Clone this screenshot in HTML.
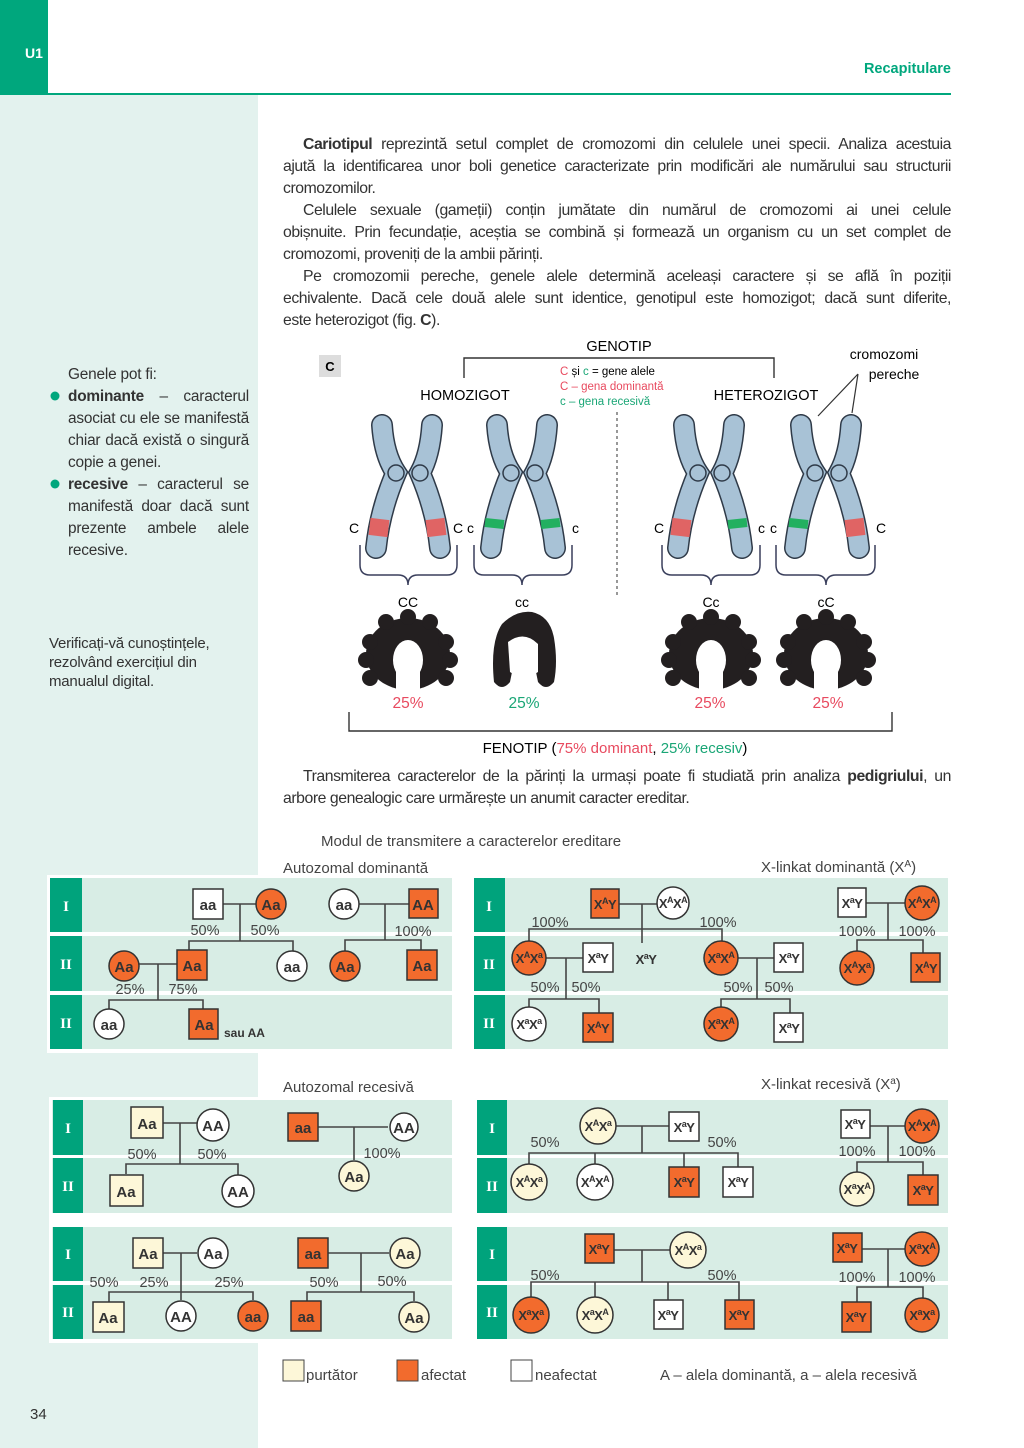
<!DOCTYPE html>
<html><head><meta charset="utf-8">
<style>
html,body{margin:0;padding:0;}
body{width:1024px;height:1448px;position:relative;background:#fff;font-family:"Liberation Sans",sans-serif;color:#333;overflow:hidden;}
.p{position:absolute;left:283px;width:668px;font-size:15.8px;line-height:22px;letter-spacing:-0.45px;}
.p div{white-space:nowrap;text-align:justify;text-align-last:justify;}
.p div.l{text-align-last:left;}
.ind{padding-left:20px;}
.side{position:absolute;left:68px;width:181px;font-size:15.4px;line-height:22px;letter-spacing:-0.2px;}
.side div{white-space:nowrap;text-align:justify;text-align-last:justify;}
.side div.l{text-align-last:left;}
svg{position:absolute;left:0;top:0;}
</style></head><body>
<svg width="1024" height="1448" viewBox="0 0 1024 1448" font-family="Liberation Sans, sans-serif">
<rect x="0" y="95" width="258" height="1353" fill="#e3f2ee"/>
<rect x="0" y="0" width="48" height="95" fill="#00a77d"/>
<line x1="48" y1="94" x2="951" y2="94" stroke="#00a77d" stroke-width="2"/>
<text x="25" y="58" fill="#fff" font-weight="bold" font-size="14">U1</text>
<text x="951" y="73" fill="#00a77d" font-weight="bold" font-size="14.5" text-anchor="end">Recapitulare</text>
<text x="30" y="1419" font-size="15" fill="#333">34</text>
<circle cx="55" cy="396" r="4.5" fill="#00a77d"/>
<circle cx="55" cy="484" r="4.5" fill="#00a77d"/>

<!-- Figure C -->
<rect x="319" y="355" width="22" height="22" fill="#ddd"/>
<text x="330" y="371" text-anchor="middle" font-weight="bold" font-size="13">C</text>
<text x="619" y="351" text-anchor="middle" font-size="14.5">GENOTIP</text>
<path d="M464 378 V358 H774 V378" fill="none" stroke="#333" stroke-width="1.4"/>
<text x="465" y="400" text-anchor="middle" font-size="14.5">HOMOZIGOT</text>
<text x="766" y="400" text-anchor="middle" font-size="14.5">HETEROZIGOT</text>
<text x="560" y="375" font-size="11.5"><tspan fill="#e84a5f">C</tspan> și <tspan fill="#1aa676">c</tspan> = gene alele</text>
<text x="560" y="390" font-size="11.5" fill="#e84a5f">C – gena dominantă</text>
<text x="560" y="405" font-size="11.5" fill="#1aa676">c – gena recesivă</text>
<line x1="617" y1="412" x2="617" y2="596" stroke="#555" stroke-width="1.2" stroke-dasharray="3,3"/>
<text x="884" y="359" text-anchor="middle" font-size="14">cromozomi</text>
<text x="894" y="379" text-anchor="middle" font-size="14">pereche</text>
<path d="M858 374 L818 416 M858 374 L852 413" stroke="#333" stroke-width="1.2" fill="none"/>

<g fill="none" stroke-linecap="round">
<g transform="translate(0,0)">
<path d="M382 425 Q384 455 396 473 Q380 510 376 548" stroke="#2f3a48" stroke-width="22"/>
<path d="M382 425 Q384 455 396 473 Q380 510 376 548" stroke="#a8c2d6" stroke-width="19"/>
<path d="M432 425 Q430 455 420 473 Q436 510 440 548" stroke="#2f3a48" stroke-width="22"/>
<path d="M432 425 Q430 455 420 473 Q436 510 440 548" stroke="#a8c2d6" stroke-width="19"/>
<path d="M380 519 L378 536" stroke="#e06464" stroke-width="19" stroke-linecap="butt"/>
<path d="M435 519 L437 536" stroke="#e06464" stroke-width="19" stroke-linecap="butt"/>
</g>
<g transform="translate(115,0)">
<path d="M382 425 Q384 455 396 473 Q380 510 376 548" stroke="#2f3a48" stroke-width="22"/>
<path d="M382 425 Q384 455 396 473 Q380 510 376 548" stroke="#a8c2d6" stroke-width="19"/>
<path d="M432 425 Q430 455 420 473 Q436 510 440 548" stroke="#2f3a48" stroke-width="22"/>
<path d="M432 425 Q430 455 420 473 Q436 510 440 548" stroke="#a8c2d6" stroke-width="19"/>
<path d="M380 519 L379 528" stroke="#22b060" stroke-width="19" stroke-linecap="butt"/>
<path d="M435 519 L436 528" stroke="#22b060" stroke-width="19" stroke-linecap="butt"/>
</g>
<g transform="translate(302,0)">
<path d="M382 425 Q384 455 396 473 Q380 510 376 548" stroke="#2f3a48" stroke-width="22"/>
<path d="M382 425 Q384 455 396 473 Q380 510 376 548" stroke="#a8c2d6" stroke-width="19"/>
<path d="M432 425 Q430 455 420 473 Q436 510 440 548" stroke="#2f3a48" stroke-width="22"/>
<path d="M432 425 Q430 455 420 473 Q436 510 440 548" stroke="#a8c2d6" stroke-width="19"/>
<path d="M380 519 L378 536" stroke="#e06464" stroke-width="19" stroke-linecap="butt"/>
<path d="M435 519 L436 528" stroke="#22b060" stroke-width="19" stroke-linecap="butt"/>
</g>
<g transform="translate(419,0)">
<path d="M382 425 Q384 455 396 473 Q380 510 376 548" stroke="#2f3a48" stroke-width="22"/>
<path d="M382 425 Q384 455 396 473 Q380 510 376 548" stroke="#a8c2d6" stroke-width="19"/>
<path d="M432 425 Q430 455 420 473 Q436 510 440 548" stroke="#2f3a48" stroke-width="22"/>
<path d="M432 425 Q430 455 420 473 Q436 510 440 548" stroke="#a8c2d6" stroke-width="19"/>
<path d="M380 519 L379 528" stroke="#22b060" stroke-width="19" stroke-linecap="butt"/>
<path d="M435 519 L437 536" stroke="#e06464" stroke-width="19" stroke-linecap="butt"/>
</g>
</g>
<g fill="#a8c2d6" stroke="#2f3a48" stroke-width="1.5">
<circle cx="396" cy="473" r="8"/><circle cx="420" cy="473" r="8"/>
<circle cx="511" cy="473" r="8"/><circle cx="535" cy="473" r="8"/>
<circle cx="698" cy="473" r="8"/><circle cx="722" cy="473" r="8"/>
<circle cx="815" cy="473" r="8"/><circle cx="839" cy="473" r="8"/>
</g>
<g font-size="14">
<text x="349" y="533">C</text><text x="453" y="533">C</text><text x="467" y="533">c</text><text x="572" y="533">c</text>
<text x="654" y="533">C</text><text x="758" y="533">c</text><text x="770" y="533">c</text><text x="876" y="533">C</text>
</g>
<g fill="none" stroke="#3a3f5c" stroke-width="1.5">
<path d="M360 545 V565 Q360 575 370 575 H398 Q408 575 408 585 Q408 575 418 575 H447 Q457 575 457 565 V545"/>
<path d="M474 545 V565 Q474 575 484 575 H512 Q522 575 522 585 Q522 575 532 575 H562 Q572 575 572 565 V545"/>
<path d="M662 545 V565 Q662 575 672 575 H701 Q711 575 711 585 Q711 575 721 575 H750 Q760 575 760 565 V545"/>
<path d="M776 545 V565 Q776 575 786 575 H816 Q826 575 826 585 Q826 575 836 575 H865 Q875 575 875 565 V545"/>
</g>
<g font-size="14" text-anchor="middle">
<text x="408" y="607">CC</text><text x="522" y="607">cc</text><text x="711" y="607">Cc</text><text x="826" y="607">cC</text>
</g>
<g fill="#231f20">
<g transform="translate(408,654)"><ellipse rx="42" ry="36"/><circle cx="-38" cy="-12" r="8"/><circle cx="-42" cy="6" r="8"/><circle cx="-38" cy="24" r="8"/><circle cx="38" cy="-12" r="8"/><circle cx="42" cy="6" r="8"/><circle cx="38" cy="24" r="8"/><circle cx="-22" cy="-32" r="8"/><circle cx="22" cy="-32" r="8"/><circle cx="0" cy="-37" r="8"/><ellipse cx="0" cy="6" rx="15" ry="20" fill="#fff"/><rect x="-12" y="14" width="24" height="30" fill="#fff"/></g>
<g transform="translate(711,654)"><ellipse rx="42" ry="36"/><circle cx="-38" cy="-12" r="8"/><circle cx="-42" cy="6" r="8"/><circle cx="-38" cy="24" r="8"/><circle cx="38" cy="-12" r="8"/><circle cx="42" cy="6" r="8"/><circle cx="38" cy="24" r="8"/><circle cx="-22" cy="-32" r="8"/><circle cx="22" cy="-32" r="8"/><circle cx="0" cy="-37" r="8"/><ellipse cx="0" cy="6" rx="15" ry="20" fill="#fff"/><rect x="-12" y="14" width="24" height="30" fill="#fff"/></g>
<g transform="translate(826,654)"><ellipse rx="42" ry="36"/><circle cx="-38" cy="-12" r="8"/><circle cx="-42" cy="6" r="8"/><circle cx="-38" cy="24" r="8"/><circle cx="38" cy="-12" r="8"/><circle cx="42" cy="6" r="8"/><circle cx="38" cy="24" r="8"/><circle cx="-22" cy="-32" r="8"/><circle cx="22" cy="-32" r="8"/><circle cx="0" cy="-37" r="8"/><ellipse cx="0" cy="6" rx="15" ry="20" fill="#fff"/><rect x="-12" y="14" width="24" height="30" fill="#fff"/></g>
<g transform="translate(524,652)"><path d="M-30 30 Q-34 -10 -22 -28 Q-8 -42 8 -40 Q26 -36 30 -14 Q34 10 30 30 Q22 40 14 30 L12 20 L-12 20 L-14 30 Q-22 40 -30 30Z"/><path d="M-16 -10 Q0 -22 14 -8 L14 20 Q0 30 -14 20Z" fill="#fff"/><rect x="-10" y="18" width="20" height="24" fill="#fff"/></g>
</g>
<g font-size="15.5" text-anchor="middle">
<text x="408" y="708" fill="#e84a5f">25%</text><text x="524" y="708" fill="#1aa676">25%</text>
<text x="710" y="708" fill="#e84a5f">25%</text><text x="828" y="708" fill="#e84a5f">25%</text>
</g>
<path d="M349 712 V731 H892 V712" fill="none" stroke="#333" stroke-width="1.4"/>
<text x="615" y="753" text-anchor="middle" font-size="15">FENOTIP (<tspan fill="#e84a5f">75% dominant</tspan>, <tspan fill="#1aa676">25% recesiv</tspan>)</text>

<g font-size="15" fill="#444">
<text x="321" y="846">Modul de transmitere a caracterelor ereditare</text>
<text x="283" y="873">Autozomal dominantă</text>
<text x="761" y="872">X-linkat dominantă (X<tspan font-size="10" dy="-5">A</tspan><tspan dy="5">)</tspan></text>
<text x="283" y="1092">Autozomal recesivă</text>
<text x="761" y="1089">X-linkat recesivă (X<tspan font-size="10" dy="-5">a</tspan><tspan dy="5">)</tspan></text>
</g>

<rect x="47" y="875" width="408" height="178" fill="#fff"/>
<rect x="471" y="875" width="480" height="178" fill="#fff"/>
<rect x="49" y="1097" width="406" height="246" fill="#fff"/>
<g fill="#d8ede5">
<rect x="50" y="878" width="402" height="54"/><rect x="50" y="936" width="402" height="55"/><rect x="50" y="995" width="402" height="54"/>
<rect x="474" y="878" width="474" height="54"/><rect x="474" y="936" width="474" height="55"/><rect x="474" y="995" width="474" height="54"/>
<rect x="52" y="1100" width="400" height="55"/><rect x="52" y="1158" width="400" height="55"/><rect x="52" y="1227" width="400" height="54"/><rect x="52" y="1285" width="400" height="54"/>
<rect x="477" y="1100" width="471" height="55"/><rect x="477" y="1158" width="471" height="55"/><rect x="477" y="1227" width="471" height="54"/><rect x="477" y="1285" width="471" height="54"/>
</g>
<g fill="#00a37c">
<rect x="50" y="878" width="32" height="54"/><rect x="50" y="936" width="32" height="55"/><rect x="50" y="995" width="32" height="54"/>
<rect x="474" y="878" width="31" height="54"/><rect x="474" y="936" width="31" height="55"/><rect x="474" y="995" width="31" height="54"/>
<rect x="53" y="1100" width="30" height="55"/><rect x="53" y="1158" width="30" height="55"/><rect x="53" y="1227" width="30" height="54"/><rect x="53" y="1285" width="30" height="54"/>
<rect x="477" y="1100" width="30" height="55"/><rect x="477" y="1158" width="30" height="55"/><rect x="477" y="1227" width="30" height="54"/><rect x="477" y="1285" width="30" height="54"/>
</g>
<g fill="#fff" font-family="Liberation Serif, serif" font-weight="bold" font-size="15" text-anchor="middle">
<text x="66" y="911">I</text><text x="66" y="969">II</text><text x="66" y="1028">II</text>
<text x="489" y="911">I</text><text x="489" y="969">II</text><text x="489" y="1028">II</text>
<text x="68" y="1133">I</text><text x="68" y="1191">II</text><text x="68" y="1259">I</text><text x="68" y="1317">II</text>
<text x="492" y="1133">I</text><text x="492" y="1191">II</text><text x="492" y="1259">I</text><text x="492" y="1317">II</text>
</g>

<g stroke="#444" stroke-width="1.6" fill="none">
<path d="M223 904 H256 M240 904 V941 M189 950 V941 H293 V951"/>
<path d="M359 904 H409 M385 904 V940 M345 951 V940 H421 V950"/>
<path d="M139 964 H177 M158 964 V1000 M109 1009 V1000 H203 V1009"/>
<path d="M618 904 H657 M642 904 V943 M529 942 V929 H722 V942"/>
<path d="M545 958 H583 M566 958 V999 M529 1008 V999 H599 V1013"/>
<path d="M737 958 H774 M757 958 V999 M721 1008 V999 H790 V1013"/>
<path d="M866 903 H906 M888 903 V940 M857 952 V940 H923 V953"/>
<path d="M163 1123 H197 M180 1123 V1164 M126 1174 V1164 H238 V1176"/>
<path d="M318 1127 H388 M354 1127 V1160"/>
<path d="M163 1253 H197 M181 1253 V1300 M109 1302 V1292 H253 V1300"/>
<path d="M328 1253 H389 M361 1253 V1292 M307 1301 V1292 H414 V1301"/>
<path d="M614 1126 H669 M642 1126 V1153 M529 1166 V1153 H738 V1167 M595 1153 V1166 M684 1153 V1167"/>
<path d="M870 1126 H906 M888 1126 V1162 M857 1173 V1162 H923 V1175"/>
<path d="M614 1250 H672 M642 1250 V1282 M531 1299 V1282 H739 V1300 M595 1282 V1299 M668 1282 V1300"/>
<path d="M862 1249 H906 M888 1249 V1287 M857 1302 V1287 H923 V1299"/>
</g>

<g stroke="#333" stroke-width="1.5">
<rect x="193" y="889" width="30" height="30" fill="#fff"/>
<circle cx="271" cy="904" r="15" fill="#f26b2d"/>
<circle cx="344" cy="904" r="15" fill="#fff"/>
<rect x="409" y="889" width="29" height="29" fill="#f26b2d"/>
<circle cx="124" cy="966" r="15" fill="#f26b2d"/>
<rect x="177" y="950" width="30" height="30" fill="#f26b2d"/>
<circle cx="292" cy="966" r="15" fill="#fff"/>
<circle cx="345" cy="966" r="15" fill="#f26b2d"/>
<rect x="407" y="950" width="30" height="30" fill="#f26b2d"/>
<circle cx="109" cy="1024" r="15" fill="#fff"/>
<rect x="189" y="1009" width="29" height="30" fill="#f26b2d"/>
<rect x="591" y="889" width="28" height="29" fill="#f26b2d"/>
<circle cx="673" cy="903" r="16" fill="#fff"/>
<circle cx="529" cy="958" r="17" fill="#f26b2d"/>
<rect x="583" y="943" width="30" height="29" fill="#fff"/>
<circle cx="721" cy="958" r="17" fill="#f26b2d"/>
<rect x="774" y="943" width="29" height="29" fill="#fff"/>
<rect x="838" y="888" width="28" height="29" fill="#fff"/>
<circle cx="922" cy="903" r="17" fill="#f26b2d"/>
<circle cx="857" cy="968" r="17" fill="#f26b2d"/>
<rect x="911" y="953" width="29" height="29" fill="#f26b2d"/>
<circle cx="529" cy="1024" r="17" fill="#fff"/>
<rect x="583" y="1013" width="30" height="29" fill="#f26b2d"/>
<circle cx="721" cy="1024" r="17" fill="#f26b2d"/>
<rect x="774" y="1013" width="29" height="29" fill="#fff"/>
<rect x="131" y="1107" width="32" height="31" fill="#fdf7d8"/>
<circle cx="213" cy="1125" r="16" fill="#fff"/>
<rect x="110" y="1175" width="33" height="31" fill="#fdf7d8"/>
<circle cx="238" cy="1191" r="16" fill="#fff"/>
<rect x="288" y="1113" width="30" height="28" fill="#f26b2d"/>
<circle cx="404" cy="1127" r="14" fill="#fff"/>
<circle cx="354" cy="1176" r="15" fill="#fdf7d8"/>
<rect x="133" y="1238" width="30" height="30" fill="#fdf7d8"/>
<circle cx="213" cy="1253" r="15" fill="#fff"/>
<rect x="93" y="1302" width="31" height="30" fill="#fdf7d8"/>
<circle cx="181" cy="1316" r="15" fill="#fff"/>
<circle cx="253" cy="1316" r="15" fill="#f26b2d"/>
<rect x="298" y="1238" width="30" height="30" fill="#f26b2d"/>
<circle cx="405" cy="1253" r="15" fill="#fdf7d8"/>
<rect x="291" y="1301" width="30" height="30" fill="#f26b2d"/>
<circle cx="414" cy="1317" r="15" fill="#fdf7d8"/>
<circle cx="598" cy="1126" r="18" fill="#fdf7d8"/>
<rect x="669" y="1112" width="30" height="29" fill="#fff"/>
<circle cx="529" cy="1182" r="18" fill="#fdf7d8"/>
<circle cx="595" cy="1182" r="18" fill="#fff"/>
<rect x="669" y="1167" width="30" height="30" fill="#f26b2d"/>
<rect x="723" y="1167" width="30" height="30" fill="#fff"/>
<rect x="841" y="1110" width="29" height="28" fill="#fff"/>
<circle cx="922" cy="1126" r="17" fill="#f26b2d"/>
<circle cx="857" cy="1189" r="17" fill="#fdf7d8"/>
<rect x="908" y="1175" width="30" height="30" fill="#f26b2d"/>
<rect x="585" y="1234" width="29" height="29" fill="#f26b2d"/>
<circle cx="688" cy="1250" r="18" fill="#fdf7d8"/>
<circle cx="531" cy="1315" r="18" fill="#f26b2d"/>
<circle cx="595" cy="1315" r="18" fill="#fdf7d8"/>
<rect x="654" y="1300" width="29" height="29" fill="#fff"/>
<rect x="725" y="1300" width="29" height="29" fill="#f26b2d"/>
<rect x="833" y="1233" width="29" height="29" fill="#f26b2d"/>
<circle cx="922" cy="1249" r="17" fill="#f26b2d"/>
<rect x="842" y="1302" width="29" height="30" fill="#f26b2d"/>
<circle cx="922" cy="1315" r="17" fill="#f26b2d"/>
</g>

<g font-size="15" font-weight="bold" fill="#333" text-anchor="middle">
<text x="208" y="910">aa</text><text x="271" y="910">Aa</text><text x="344" y="910">aa</text><text x="423" y="910">AA</text>
<text x="124" y="972">Aa</text><text x="192" y="971">Aa</text><text x="292" y="972">aa</text><text x="345" y="972">Aa</text><text x="422" y="971">Aa</text>
<text x="109" y="1030">aa</text><text x="204" y="1030">Aa</text>
<text x="147" y="1129">Aa</text><text x="213" y="1131">AA</text><text x="126" y="1197">Aa</text><text x="238" y="1197">AA</text>
<text x="303" y="1133">aa</text><text x="404" y="1133">AA</text><text x="354" y="1182">Aa</text>
<text x="148" y="1259">Aa</text><text x="213" y="1259">Aa</text><text x="108" y="1323">Aa</text><text x="181" y="1322">AA</text><text x="253" y="1322">aa</text>
<text x="313" y="1259">aa</text><text x="405" y="1259">Aa</text><text x="306" y="1322">aa</text><text x="414" y="1323">Aa</text>
</g>
<text x="224" y="1037" font-size="12" font-weight="bold" fill="#333">sau AA</text>
<g font-size="13" font-weight="bold" fill="#333" text-anchor="middle" letter-spacing="-0.5">
<text x="605" y="909">X<tspan font-size="9" dy="-5">A</tspan><tspan dy="5">Y</tspan></text>
<text x="673" y="908">X<tspan font-size="9" dy="-5">A</tspan><tspan dy="5">X</tspan><tspan font-size="9" dy="-5">A</tspan></text>
<text x="529" y="963">X<tspan font-size="9" dy="-5">A</tspan><tspan dy="5">X</tspan><tspan font-size="9" dy="-5">a</tspan></text>
<text x="598" y="963">X<tspan font-size="9" dy="-5">a</tspan><tspan dy="5">Y</tspan></text>
<text x="646" y="964">X<tspan font-size="9" dy="-5">a</tspan><tspan dy="5">Y</tspan></text>
<text x="721" y="963">X<tspan font-size="9" dy="-5">a</tspan><tspan dy="5">X</tspan><tspan font-size="9" dy="-5">A</tspan></text>
<text x="789" y="963">X<tspan font-size="9" dy="-5">a</tspan><tspan dy="5">Y</tspan></text>
<text x="852" y="908">X<tspan font-size="9" dy="-5">a</tspan><tspan dy="5">Y</tspan></text>
<text x="922" y="908">X<tspan font-size="9" dy="-5">A</tspan><tspan dy="5">X</tspan><tspan font-size="9" dy="-5">A</tspan></text>
<text x="857" y="973">X<tspan font-size="9" dy="-5">A</tspan><tspan dy="5">X</tspan><tspan font-size="9" dy="-5">a</tspan></text>
<text x="926" y="973">X<tspan font-size="9" dy="-5">A</tspan><tspan dy="5">Y</tspan></text>
<text x="529" y="1029">X<tspan font-size="9" dy="-5">a</tspan><tspan dy="5">X</tspan><tspan font-size="9" dy="-5">a</tspan></text>
<text x="598" y="1033">X<tspan font-size="9" dy="-5">A</tspan><tspan dy="5">Y</tspan></text>
<text x="721" y="1029">X<tspan font-size="9" dy="-5">a</tspan><tspan dy="5">X</tspan><tspan font-size="9" dy="-5">A</tspan></text>
<text x="789" y="1033">X<tspan font-size="9" dy="-5">a</tspan><tspan dy="5">Y</tspan></text>
<text x="598" y="1131">X<tspan font-size="9" dy="-5">A</tspan><tspan dy="5">X</tspan><tspan font-size="9" dy="-5">a</tspan></text>
<text x="684" y="1132">X<tspan font-size="9" dy="-5">a</tspan><tspan dy="5">Y</tspan></text>
<text x="529" y="1187">X<tspan font-size="9" dy="-5">A</tspan><tspan dy="5">X</tspan><tspan font-size="9" dy="-5">a</tspan></text>
<text x="595" y="1187">X<tspan font-size="9" dy="-5">A</tspan><tspan dy="5">X</tspan><tspan font-size="9" dy="-5">A</tspan></text>
<text x="684" y="1187">X<tspan font-size="9" dy="-5">a</tspan><tspan dy="5">Y</tspan></text>
<text x="738" y="1187">X<tspan font-size="9" dy="-5">a</tspan><tspan dy="5">Y</tspan></text>
<text x="855" y="1129">X<tspan font-size="9" dy="-5">a</tspan><tspan dy="5">Y</tspan></text>
<text x="922" y="1131">X<tspan font-size="9" dy="-5">A</tspan><tspan dy="5">X</tspan><tspan font-size="9" dy="-5">A</tspan></text>
<text x="857" y="1194">X<tspan font-size="9" dy="-5">a</tspan><tspan dy="5">X</tspan><tspan font-size="9" dy="-5">A</tspan></text>
<text x="923" y="1195">X<tspan font-size="9" dy="-5">a</tspan><tspan dy="5">Y</tspan></text>
<text x="599" y="1254">X<tspan font-size="9" dy="-5">a</tspan><tspan dy="5">Y</tspan></text>
<text x="688" y="1255">X<tspan font-size="9" dy="-5">A</tspan><tspan dy="5">X</tspan><tspan font-size="9" dy="-5">a</tspan></text>
<text x="531" y="1320">X<tspan font-size="9" dy="-5">a</tspan><tspan dy="5">X</tspan><tspan font-size="9" dy="-5">a</tspan></text>
<text x="595" y="1320">X<tspan font-size="9" dy="-5">a</tspan><tspan dy="5">X</tspan><tspan font-size="9" dy="-5">A</tspan></text>
<text x="668" y="1320">X<tspan font-size="9" dy="-5">a</tspan><tspan dy="5">Y</tspan></text>
<text x="739" y="1320">X<tspan font-size="9" dy="-5">a</tspan><tspan dy="5">Y</tspan></text>
<text x="847" y="1253">X<tspan font-size="9" dy="-5">a</tspan><tspan dy="5">Y</tspan></text>
<text x="922" y="1254">X<tspan font-size="9" dy="-5">a</tspan><tspan dy="5">X</tspan><tspan font-size="9" dy="-5">A</tspan></text>
<text x="856" y="1322">X<tspan font-size="9" dy="-5">a</tspan><tspan dy="5">Y</tspan></text>
<text x="922" y="1320">X<tspan font-size="9" dy="-5">a</tspan><tspan dy="5">X</tspan><tspan font-size="9" dy="-5">a</tspan></text>
</g>

<g font-size="14.5" fill="#444" text-anchor="middle">
<text x="205" y="935">50%</text><text x="265" y="935">50%</text><text x="413" y="936">100%</text>
<text x="130" y="994">25%</text><text x="183" y="994">75%</text>
<text x="550" y="927">100%</text><text x="718" y="927">100%</text>
<text x="545" y="992">50%</text><text x="586" y="992">50%</text><text x="738" y="992">50%</text><text x="779" y="992">50%</text>
<text x="857" y="936">100%</text><text x="917" y="936">100%</text>
<text x="142" y="1159">50%</text><text x="212" y="1159">50%</text><text x="382" y="1158">100%</text>
<text x="104" y="1287">50%</text><text x="154" y="1287">25%</text><text x="229" y="1287">25%</text>
<text x="324" y="1287">50%</text><text x="392" y="1286">50%</text>
<text x="545" y="1147">50%</text><text x="722" y="1147">50%</text><text x="857" y="1156">100%</text><text x="917" y="1156">100%</text>
<text x="545" y="1280">50%</text><text x="722" y="1280">50%</text><text x="857" y="1282">100%</text><text x="917" y="1282">100%</text>
</g>

<rect x="283" y="1360" width="21" height="21" fill="#fdf7d8" stroke="#444" stroke-width="1"/>
<rect x="397" y="1360" width="21" height="21" fill="#f26b2d" stroke="#444" stroke-width="1"/>
<rect x="511" y="1360" width="21" height="21" fill="#fff" stroke="#444" stroke-width="1"/>
<g font-size="15" fill="#444">
<text x="306" y="1380">purtător</text><text x="421" y="1380">afectat</text><text x="535" y="1380">neafectat</text>
<text x="660" y="1380">A – alela dominantă, a – alela recesivă</text>
</g>
</svg>

<div class="p" style="top:134px;">
<div class="ind"><b>Cariotipul</b> reprezintă setul complet de cromozomi din celulele unei specii. Analiza acestuia</div>
<div>ajută la identificarea unor boli genetice caracterizate prin modificări ale numărului sau structurii</div>
<div class="l">cromozomilor.</div>
<div class="ind">Celulele sexuale (gameții) conțin jumătate din numărul de cromozomi ai unei celule</div>
<div>obișnuite. Prin fecundație, aceștia se combină și formează un organism cu un set complet de</div>
<div class="l">cromozomi, proveniți de la ambii părinți.</div>
<div class="ind">Pe cromozomii pereche, genele alele determină aceleași caractere și se află în poziții</div>
<div>echivalente. Dacă cele două alele sunt identice, genotipul este homozigot; dacă sunt diferite,</div>
<div class="l">este heterozigot (fig. <b>C</b>).</div>
</div>
<div class="p" style="top:766px;">
<div class="ind">Transmiterea caracterelor de la părinți la urmași poate fi studiată prin analiza <b>pedigriului</b>, un</div>
<div class="l">arbore genealogic care urmărește un anumit caracter ereditar.</div>
</div>

<div class="side" style="top:364px;">
<div class="l">Genele pot fi:</div>
<div><b>dominante</b> – caracterul</div>
<div>asociat cu ele se manifestă</div>
<div>chiar dacă există o singură</div>
<div class="l">copie a genei.</div>
<div><b>recesive</b> – caracterul se</div>
<div>manifestă doar dacă sunt</div>
<div>prezente ambele alele</div>
<div class="l">recesive.</div>
</div>
<div style="position:absolute;left:49px;top:634px;font-size:15px;line-height:19px;letter-spacing:-0.2px;">Verificați-vă cunoștințele,<br>rezolvând exercițiul din<br>manualul digital.</div>
</body></html>
